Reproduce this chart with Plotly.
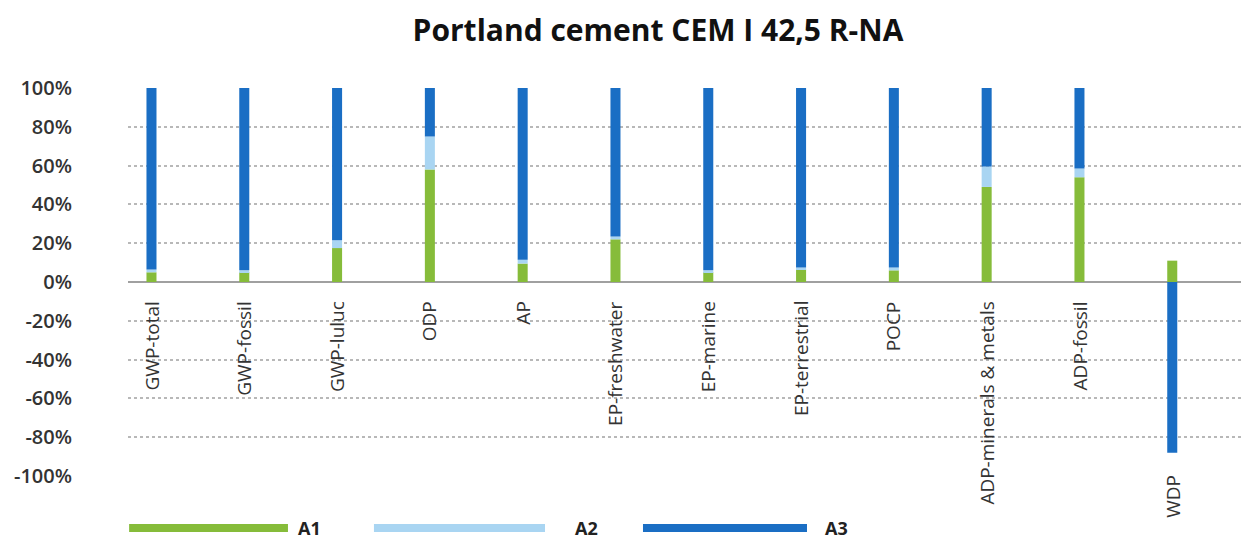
import plotly.graph_objects as go

categories = ["GWP-total", "GWP-fossil", "GWP-luluc", "ODP", "AP", "EP-freshwater",
              "EP-marine", "EP-terrestrial", "POCP", "ADP-minerals & metals", "ADP-fossil", "WDP"]
a1 = [5, 5, 17.5, 58, 9.5, 22, 5, 6.5, 6, 49, 54, 11]
a2 = [1.5, 1, 4, 17, 2, 1.5, 1, 1, 1.5, 10.5, 4.5, 0]
a3 = [93.5, 94, 78.5, 25, 88.5, 76.5, 94, 92.5, 92.5, 40.5, 41.5, -88]
tick_vals = [-100, -80, -60, -40, -20, 0, 20, 40, 60, 80, 100]
tick_text = [f"{v}%" for v in tick_vals]

C1, C2, C3 = "#86bc3a", "#a9d5f2", "#1a6ec4"
xs = list(range(len(categories)))

fig = go.Figure()
w = 0.108
fig.add_trace(go.Bar(x=xs, y=a1, name="A1", marker_color=C1, width=w, marker_line_width=0))
fig.add_trace(go.Bar(x=xs, y=a2, name="A2", marker_color=C2, width=w, marker_line_width=0))
fig.add_trace(go.Bar(x=xs, y=a3, name="A3", marker_color=C3, width=w, marker_line_width=0))

annotations = []
for i, c in enumerate(categories):
    ytop = -9 if a3[i] >= 0 else a3[i] - 10.5
    annotations.append(dict(x=i, y=(ytop + 100) / 200, xref="x", yref="paper", text=c, textangle=-90,
                            showarrow=False, xanchor="center", yanchor="top",
                            font=dict(family="Open Sans", size=19, color="#333")))

shapes = []
# legend: (name, colour, bar start, bar end, label start) in paper fractions
leg = [("A1", C1, 0.001, 0.1427, 0.150),
       ("A2", C2, 0.2194, 0.372, 0.397),
       ("A3", C3, 0.4594, 0.6057, 0.620)]
ly = -0.134
for name, col, x0, x1, lx in leg:
    shapes.append(dict(type="rect", xref="paper", yref="paper", x0=x0, x1=x1,
                       y0=ly - 0.0105, y1=ly + 0.0105, fillcolor=col, line_width=0))
    annotations.append(dict(x=lx, y=ly, xref="paper", yref="paper", text=name,
                            showarrow=False, xanchor="left", yanchor="middle",
                            font=dict(family="Open Sans", size=18, color="#222", weight=700)))

fig.update_layout(
    barmode="relative",
    width=1249, height=540,
    margin=dict(l=120, r=8, t=80, b=72),
    paper_bgcolor="white", plot_bgcolor="white",
    showlegend=False,
    title=dict(text="Portland cement CEM I 42,5 R-NA", x=0.5204, xanchor="center", y=0.958, yanchor="middle",
               font=dict(family="Open Sans", size=30, color="#111", weight=700)),
    xaxis=dict(range=[-0.253, 11.827], showticklabels=False, showgrid=False, zeroline=False,
               showline=False, ticks=""),
    yaxis=dict(range=[-100, 100], tickvals=tick_vals, ticktext=tick_text, showgrid=True,
               gridcolor="#b8b8b8", griddash="dot", gridwidth=1.5,
               zeroline=True, zerolinecolor="#a0a0a0", zerolinewidth=2,
               tickfont=dict(family="Open Sans", size=20, color="#333", weight=600),
               ticks="", ticklabelstandoff=55, automargin=False),
    annotations=annotations,
    shapes=shapes,
)

fig.write_html("out.html")
